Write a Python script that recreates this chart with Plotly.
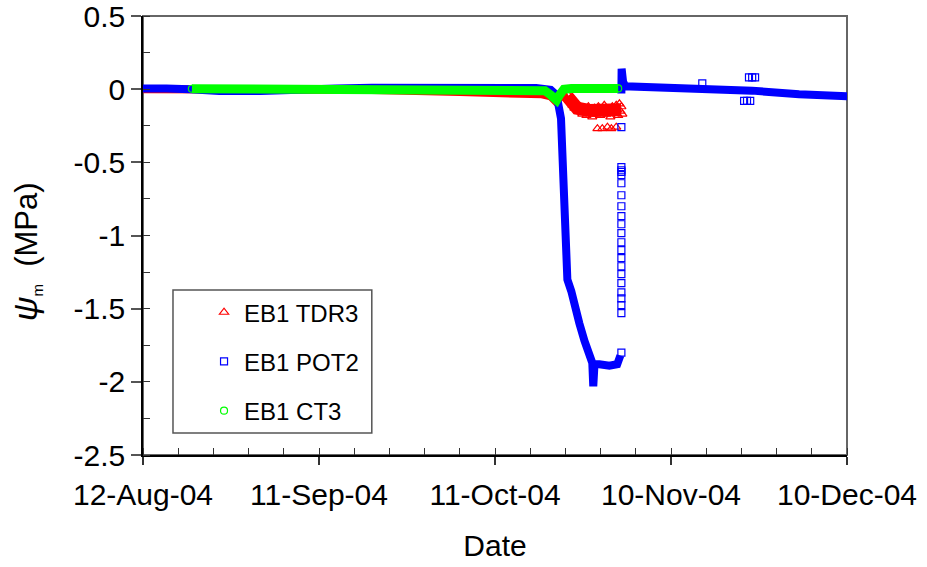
import plotly.graph_objects as go

# ---------------- data ----------------
tdr3_line_dates = [
    "2004-08-12 00:00", "2004-08-20 00:00", "2004-09-05 00:00", "2004-09-20 00:00",
    "2004-10-05 00:00", "2004-10-15 00:00", "2004-10-19 00:00", "2004-10-20 12:00",
    "2004-10-21 06:00", "2004-10-22 00:00", "2004-10-22 18:00", "2004-10-23 08:00",
]
tdr3_line_vals = [
    0.0, 0.0, 0.0, -0.005,
    -0.02, -0.028, -0.035, -0.05,
    -0.08, -0.06, -0.04, -0.03,
]
tdr3_band_dates = [
    "2004-10-23 08:00", "2004-10-24 00:00", "2004-10-25 00:00", "2004-10-27 00:00",
    "2004-10-29 00:00", "2004-10-31 00:00", "2004-11-01 12:00",
]
tdr3_band_vals = [-0.05, -0.10, -0.13, -0.145, -0.145, -0.145, -0.14]
tdr3_pts_dates = [
    "2004-10-23 12:00", "2004-10-23 20:00", "2004-10-24 05:00", "2004-10-24 13:00",
    "2004-10-24 21:00", "2004-10-25 05:00", "2004-10-25 13:00", "2004-10-25 21:00",
    "2004-10-26 06:00", "2004-10-26 14:00", "2004-10-26 22:00", "2004-10-27 06:00",
    "2004-10-27 14:00", "2004-10-27 23:00", "2004-10-28 07:00", "2004-10-28 15:00",
    "2004-10-28 23:00", "2004-10-29 07:00", "2004-10-29 15:00", "2004-10-29 23:00",
    "2004-10-30 08:00", "2004-10-30 16:00", "2004-10-31 00:00", "2004-10-31 08:00",
    "2004-10-31 16:00", "2004-11-01 00:00", "2004-11-01 05:00", "2004-11-01 09:00",
    "2004-11-01 13:00", "2004-11-01 17:00",
    "2004-10-28 11:00", "2004-10-29 07:00", "2004-10-30 04:00", "2004-10-30 20:00",
    "2004-10-31 16:00",
]
tdr3_pts_vals = [
    -0.04, -0.08, -0.11, -0.13,
    -0.10, -0.15, -0.12, -0.17,
    -0.14, -0.18, -0.12, -0.16,
    -0.19, -0.13, -0.17, -0.12,
    -0.18, -0.15, -0.11, -0.17,
    -0.14, -0.19, -0.12, -0.16,
    -0.11, -0.18, -0.10, -0.15,
    -0.12, -0.17,
    -0.27, -0.27, -0.26, -0.27,
    -0.26,
]

pot2_line_dates = [
    "2004-08-12 00:00", "2004-08-14 00:00", "2004-08-16 00:00", "2004-08-20 00:00",
    "2004-08-25 00:00", "2004-09-01 00:00", "2004-09-08 00:00", "2004-09-14 00:00",
    "2004-09-20 00:00", "2004-10-01 00:00", "2004-10-12 00:00", "2004-10-18 00:00",
    "2004-10-20 12:00", "2004-10-21 12:00", "2004-10-22 06:00", "2004-10-22 18:00",
    "2004-10-23 03:00", "2004-10-23 08:00", "2004-10-24 00:00", "2004-10-24 17:00",
    "2004-10-25 09:00", "2004-10-26 06:00", "2004-10-27 02:00", "2004-10-27 14:00",
    "2004-10-27 18:00", "2004-10-27 23:00", "2004-10-28 19:00", "2004-10-30 12:00",
    "2004-10-31 20:00", "2004-11-01 05:00", "2004-11-01 09:00",
    None,
    "2004-11-01 13:00", "2004-11-01 14:00", "2004-11-01 20:00", "2004-11-02 05:00",
    "2004-11-11 10:00", "2004-11-18 05:00", "2004-11-23 20:00", "2004-12-01 20:00",
    "2004-12-10 12:00",
]
pot2_line_vals = [
    0.005, 0.0, 0.005, 0.0,
    -0.012, -0.012, -0.01, 0.005,
    0.01, 0.012, 0.012, 0.008,
    -0.005, -0.04, -0.2, -0.6,
    -1.0, -1.3, -1.38, -1.52,
    -1.60, -1.72, -1.82, -1.87,
    -2.03, -1.88, -1.88, -1.89,
    -1.88, -1.84, -1.82,
    None,
    -0.03, 0.14, 0.05, 0.02,
    0.01, 0.0, -0.01, -0.035,
    -0.05,
]
pot2_pts_dates = ["2004-11-01 13:00"] * 22 + [
    "2004-11-15 08:00",
    "2004-11-22 11:00", "2004-11-22 23:00", "2004-11-23 12:00",
    "2004-11-23 07:00", "2004-11-23 20:00", "2004-11-24 08:00",
]
pot2_pts_vals = [
    -1.80, -1.53, -1.476, -1.43, -1.388, -1.326, -1.264, -1.21, -1.155, -1.10, -1.046,
    -0.984, -0.923, -0.868, -0.80, -0.725, -0.643, -0.588, -0.565, -0.554, -0.533, -0.26,
    0.04,
    -0.08, -0.08, -0.08,
    0.08, 0.08, 0.08,
]

ct3_line_dates = [
    "2004-08-20 08:00", "2004-09-10 00:00", "2004-10-01 00:00", "2004-10-18 00:00",
    "2004-10-19 12:00", "2004-10-20 12:00", "2004-10-21 00:00", "2004-10-21 12:00",
    "2004-10-22 00:00", "2004-10-22 18:00", "2004-10-24 00:00", "2004-11-01 00:00",
]
ct3_line_vals = [
    0.003, 0.0, 0.0, 0.005,
    -0.01, -0.04, -0.07, -0.075,
    -0.04, 0.0, 0.005, 0.005,
]

x_range = ["2004-08-12", "2004-12-10"]
y_tickvals = [0.5, 0, -0.5, -1, -1.5, -2, -2.5]
y_ticktext = ["0.5", "0", "-0.5", "-1", "-1.5", "-2", "-2.5"]

RED, BLUE, GREEN = "#ff0000", "#0000ff", "#00ff00"
FONT = "Liberation Sans, Arial, sans-serif"
DAY = 86400000
NB = "\u00a0"

fig = go.Figure()

# TDR3
fig.add_trace(go.Scatter(x=tdr3_line_dates, y=tdr3_line_vals, mode="lines",
                         line=dict(color=RED, width=8), legendgroup="tdr3",
                         showlegend=False, hoverinfo="skip"))
fig.add_trace(go.Scatter(x=tdr3_band_dates, y=tdr3_band_vals, mode="lines",
                         line=dict(color=RED, width=13), legendgroup="tdr3",
                         showlegend=False, hoverinfo="skip"))
fig.add_trace(go.Scatter(x=tdr3_pts_dates, y=tdr3_pts_vals, mode="markers", name="EB1 TDR3",
                         legendgroup="tdr3",
                         marker=dict(symbol="triangle-up-open", size=8, color=RED,
                                     line=dict(width=1.2, color=RED))))
# POT2
fig.add_trace(go.Scatter(x=pot2_line_dates, y=pot2_line_vals, mode="lines",
                         line=dict(color=BLUE, width=8), legendgroup="pot2",
                         showlegend=False, connectgaps=False, hoverinfo="skip"))
fig.add_trace(go.Scatter(x=pot2_pts_dates, y=pot2_pts_vals, mode="markers", name="EB1 POT2",
                         legendgroup="pot2",
                         marker=dict(symbol="square-open", size=7, color=BLUE,
                                     line=dict(width=1.2, color=BLUE))))
# CT3
fig.add_trace(go.Scatter(x=ct3_line_dates, y=ct3_line_vals, mode="lines",
                         line=dict(color=GREEN, width=9), legendgroup="ct3",
                         showlegend=False, hoverinfo="skip"))
fig.add_trace(go.Scatter(x=[ct3_line_dates[0], ct3_line_dates[-1]],
                         y=[ct3_line_vals[0], ct3_line_vals[-1]], mode="markers",
                         name="EB1 CT3", legendgroup="ct3",
                         marker=dict(symbol="circle-open", size=7, color=GREEN,
                                     line=dict(width=1.2, color=GREEN))))

# top / right border of the plot area
fig.add_shape(type="rect", xref="paper", yref="paper", x0=0, x1=1, y0=0, y1=1,
              line=dict(color="#666666", width=2), layer="below")
# legend frame
fig.add_shape(type="rect", xref="paper", yref="paper", x0=0.0426, x1=0.325, y0=0.050, y1=0.376,
              line=dict(color="#555555", width=1.5), fillcolor="white", layer="below")

# y-axis title (placed as a rotated annotation so its position can match)
y_title = ("<span style='font-size:34px'><i>ψ</i></span>"
           "<sub><span style='font-size:15px'>m</span></sub>" + NB * 2 + "(MPa)")
fig.add_annotation(text=y_title, xref="paper", yref="paper",
                   x=-0.166, y=0.462, xanchor="center", yanchor="middle",
                   textangle=-90, showarrow=False,
                   font=dict(family=FONT, size=31, color="black"))

fig.update_layout(
    width=927, height=567,
    margin=dict(l=143, r=80, t=16, b=112),
    paper_bgcolor="white", plot_bgcolor="white",
    font=dict(family=FONT, color="black", size=30),
    legend=dict(
        x=0.0867, y=0.3755, xanchor="left", yanchor="top",
        bgcolor="rgba(0,0,0,0)", borderwidth=0,
        font=dict(family=FONT, size=24, color="black"),
        tracegroupgap=15, traceorder="grouped", itemwidth=30,
    ),
    xaxis=dict(
        type="date", range=x_range, automargin=False, ticklabeloverflow="allow",
        tickmode="linear", tick0="2004-08-12", dtick=30 * DAY, tickformat="%d-%b-%y",
        ticks="outside", ticklen=8, tickwidth=1.5, tickcolor="#333333",
        ticklabelstandoff=4,
        showline=True, linecolor="black", linewidth=1.5,
        showgrid=False, zeroline=False,
        tickfont=dict(family=FONT, size=30, color="black"),
        minor=dict(tick0="2004-08-12", dtick=6 * DAY, ticks="inside", ticklen=7,
                   tickwidth=1.2, tickcolor="#333333", showgrid=False),
        title=dict(text="Date", font=dict(family=FONT, size=30, color="black"), standoff=25),
    ),
    yaxis=dict(
        range=[-2.5, 0.5], automargin=False, ticklabeloverflow="allow",
        tickmode="array", tickvals=y_tickvals, ticktext=y_ticktext,
        ticks="outside", ticklen=10, tickwidth=1.5, tickcolor="#555555",
        showline=True, linecolor="black", linewidth=1.5,
        showgrid=False, zeroline=False,
        tickfont=dict(family=FONT, size=30, color="black"),
        minor=dict(tick0=0, dtick=0.25, ticks="inside", ticklen=7, tickwidth=1.2,
                   tickcolor="#333333", showgrid=False),
    ),
)

fig.write_html("out.html", config={"displayModeBar": False},
               post_script="document.body.style.margin='0px';")
